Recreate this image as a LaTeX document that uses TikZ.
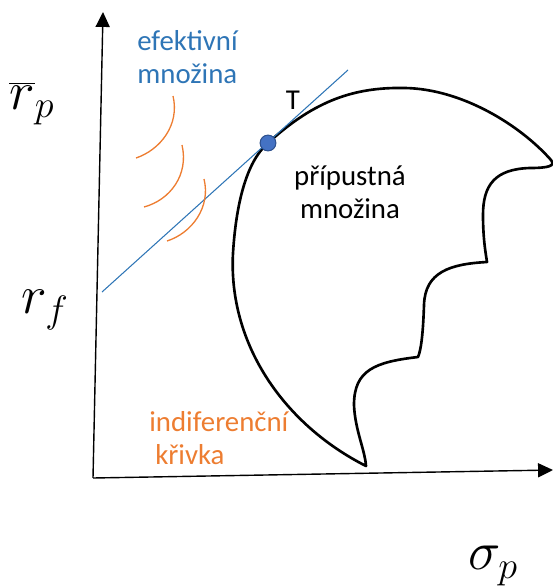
\RequirePackage{fix-cm}
\documentclass[tikz,border=0pt]{standalone}
\usepackage{fontspec}
\setmainfont{Carlito}
\usetikzlibrary{arrows.meta}

\definecolor{effblue}{HTML}{2E75B6}
\definecolor{indorange}{HTML}{ED7D31}
\definecolor{dotblue}{HTML}{4472C4}
\definecolor{dotedge}{HTML}{2F528F}

\begin{document}
\begin{tikzpicture}[x=0.02cm, y=-0.02cm,
    >={Triangle[length=8.5pt, width=8pt]},
    axis/.style={line width=0.8pt, ->},
    txt/.style={font=\fontsize{16.4}{18.7}\selectfont, inner sep=0pt},
    mathtxt/.style={font=\fontsize{31}{37}\selectfont, inner sep=0pt},
    indif/.style={indorange, line width=0.75pt},
    bound/.style={line width=1.5pt, line join=round}]
  % feasible set, tangent line from r_f and indifference curves
  \useasboundingbox (0,0) rectangle (553,588);
  \coordinate (O) at (93,478);
  \coordinate (ytop) at (103,12);
  \coordinate (xend) at (553,470);
  \draw[axis] (O) -- (ytop);
  \draw[axis] (O) -- (xend);

  \coordinate (tp) at (268,143);
  \draw[bound] (tp) .. controls (315,100) and (355,87) .. (405,88)
    .. controls (462,89) and (520,125) .. (551,160)
    .. controls (556,166) and (548,168) .. (530,168)
    .. controls (495,169) and (483,185) .. (483,215)
    .. controls (483,240) and (486,255) .. (487,262)
    .. controls (450,264) and (425,272) .. (424,305)
    .. controls (423,335) and (421,350) .. (418,357)
    .. controls (375,362) and (354,370) .. (354,405)
    .. controls (355,430) and (365,450) .. (366,466)
    .. controls (285,425) and (228,345) .. (233,253)
    .. controls (236,205) and (246,162) .. cycle;

  \coordinate (lineA) at (102,292);
  \coordinate (lineB) at (348,70);
  \draw[effblue, line width=0.6pt] (lineA) -- (lineB);
  \node[circle, fill=dotblue, draw=dotedge, line width=0.6pt,
        minimum size=9pt, inner sep=0pt] (T) at (tp) {};

  \draw[indif] (173,96) .. controls (180,125) and (160,150) .. (136,158);
  \draw[indif] (182,145) .. controls (189,175) and (170,200) .. (144,207);
  \draw[indif] (204,179) .. controls (211,207) and (192,233) .. (167,241);

  \node[txt, effblue, anchor=west, align=left] (eff) at (137,57) {efektivní\\množina};
  \node[txt, indorange, anchor=west, align=left] (ind) at (149,438) {indiferenční\\\hspace*{3.4pt}křivka};
  \node[txt, align=center] (feas) at (350,192) {přípustná\\množina};
  \node[txt] (Tlab) at (293,100) {T};

  \node[mathtxt] (rp) at (32,104) {$\overline{r}_p$};
  \node[mathtxt] (rf) at (45,310) {$r_f$};
  \node[mathtxt] (sp) at (493,566) {$\sigma_p$};
\end{tikzpicture}
\end{document}
